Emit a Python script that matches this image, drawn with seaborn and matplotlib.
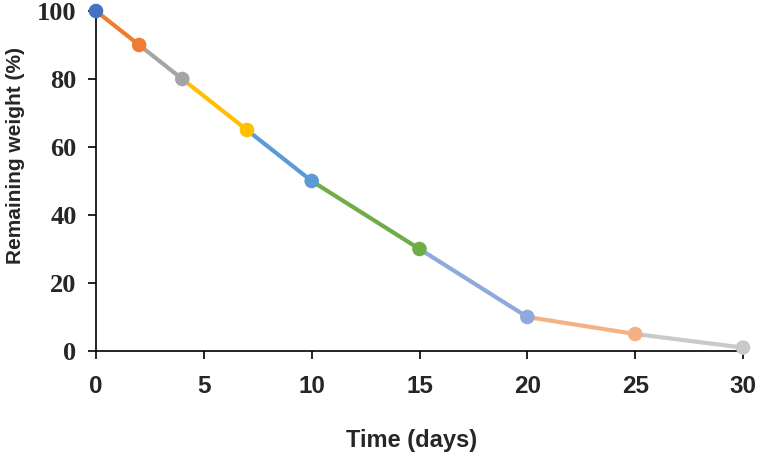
import matplotlib
matplotlib.use("Agg")
import matplotlib.pyplot as plt
import seaborn as sns
import pandas as pd

days = [0, 2, 4, 7, 10, 15, 20, 25, 30]
remaining = [100, 90, 80, 65, 50, 30, 10, 5, 1]
point_colors = ["#4472C4", "#ED7D31", "#A5A5A5", "#FFC000", "#5B9BD5",
                "#70AD47", "#8EA9DB", "#F4B183", "#C9C9C9"]
x_ticks = [0, 5, 10, 15, 20, 25, 30]
y_ticks = [0, 20, 40, 60, 80, 100]

sns.set_style("white")

# segments: each segment colored like its end point
rows = []
for i in range(1, len(days)):
    rows.append({"seg": i, "x": days[i - 1], "y": remaining[i - 1]})
    rows.append({"seg": i, "x": days[i], "y": remaining[i]})
seg_df = pd.DataFrame(rows)
seg_pal = {i: point_colors[i] for i in range(1, len(days))}

pt_df = pd.DataFrame({"x": days, "y": remaining, "pid": list(range(len(days)))})
pt_pal = {i: c for i, c in enumerate(point_colors)}

fig = plt.figure(figsize=(7.6, 4.58), dpi=100)
ax = fig.add_axes([96 / 760, 1 - 351 / 458, (743 - 96) / 760, (351 - 11) / 458])

sns.lineplot(data=seg_df, x="x", y="y", hue="seg", palette=seg_pal, units="seg",
             estimator=None, linewidth=3, legend=False, ax=ax, sort=False)
sns.scatterplot(data=pt_df, x="x", y="y", hue="pid", palette=pt_pal, s=110,
                edgecolor="none", legend=False, ax=ax, zorder=5, clip_on=False)
for c in ax.collections:
    c.set_clip_on(False)
for l in ax.lines:
    l.set_clip_on(False)

ax.set_xlim(0, 30)
ax.set_ylim(0, 100)
ax.set_xticks(x_ticks)
ax.set_yticks(y_ticks)
ax.set_xticklabels([str(t) for t in x_ticks], fontfamily="Liberation Sans",
                   fontweight="bold", fontsize=17.5)
ax.set_yticklabels([str(t) for t in y_ticks], fontfamily="Liberation Serif",
                   fontweight="bold", fontsize=19)
ax.tick_params(axis="both", direction="out", length=6, width=1.2, color="black",
               bottom=True, left=True)
ax.tick_params(axis="x", pad=11)
ax.tick_params(axis="y", pad=8)

for s in ["top", "right"]:
    ax.spines[s].set_visible(False)
for s in ["left", "bottom"]:
    ax.spines[s].set_color("black")
    ax.spines[s].set_linewidth(1.2)

ax.set_xlabel("Time (days)", fontfamily="Liberation Sans", fontweight="bold",
              fontsize=17)
ax.set_ylabel("Remaining weight (%)", fontfamily="Liberation Sans", fontweight="bold",
              fontsize=15)
ax.xaxis.set_label_coords((412 - 96) / 647, (351 - 440) / 340)
ax.xaxis.label.set_va("center")
ax.yaxis.set_label_coords((16 - 96) / 647, (351 - 156) / 340)
ax.yaxis.label.set_va("center")

fig.savefig("out.png", dpi=100)
